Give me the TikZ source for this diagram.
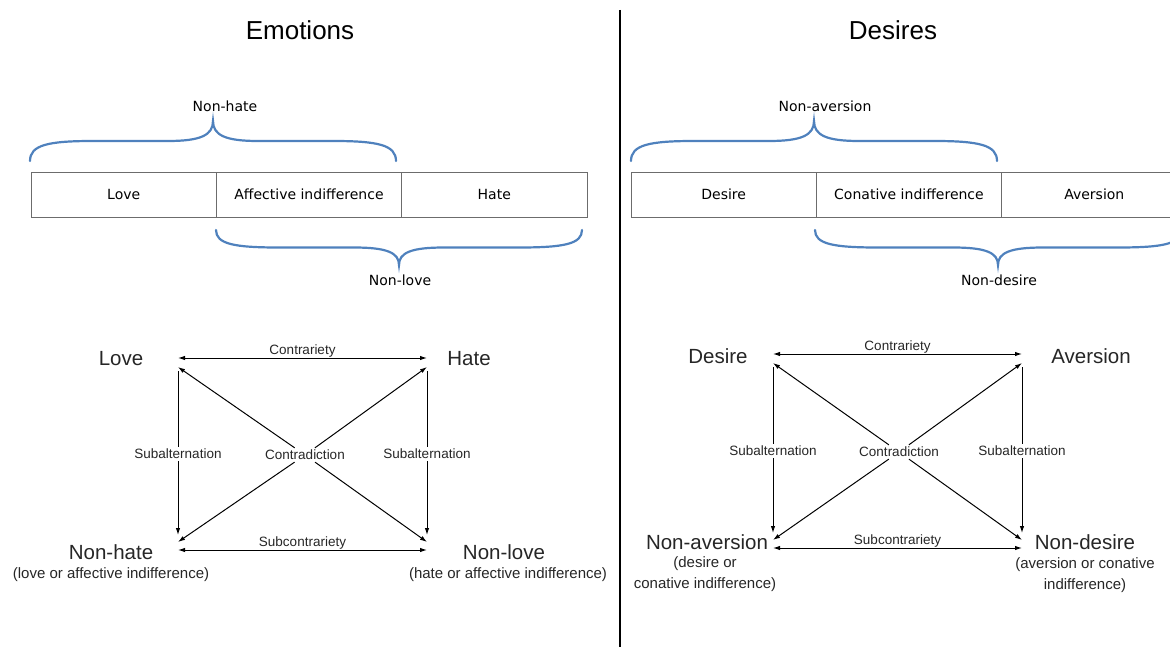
\documentclass[tikz,border=0pt]{standalone}
\usepackage{fontspec}
\setmainfont{Liberation Sans}
\newfontfamily\boxfont{DejaVu Sans}
\usetikzlibrary{positioning,arrows.meta}

\definecolor{bracecol}{RGB}{79,129,189}

\tikzset{
  cell/.style={draw=gray!85!black, line width=0.8pt, outer sep=0pt, inner sep=0pt,
    minimum width=185.3pt, minimum height=45pt, font=\boxfont\fontsize{14}{16}\selectfont},
  bracelabel/.style={font=\boxfont\fontsize{14}{16}\selectfont},
  brace/.style={draw=bracecol, line width=2.2pt, line cap=round},
  curly/.pic={
    \draw[brace] (-183,40) .. controls (-183,24) and (-165,20) .. (-120,20) -- (-45,20)
      .. controls (-12,20) and (0,14) .. (0,0)
      .. controls (0,14) and (12,20) .. (45,20) -- (120,20)
      .. controls (165,20) and (183,24) .. (183,40);
  },
  title/.style={font=\fontsize{26}{30}\selectfont},
  corner/.style={font=\fontsize{20.5}{24}\selectfont, text=black!85},
  sub/.style={font=\fontsize{15}{21}\selectfont, align=center, text=black!85},
  rel/.style={line width=1pt, >={Latex[length=7pt,width=4.5pt]}},
  rellabel/.style={font=\fontsize{13.5}{16}\selectfont, inner sep=2pt, text=black!85},
}

\begin{document}
\begin{tikzpicture}[x=1pt,y=-1pt]
  \useasboundingbox (0,0) rectangle (1170,647);
  \clip (0,0) rectangle (1170,647);

  % divider
  \draw[line width=2.5pt] (620,10) -- (620,647);

  \node[title] (emotions) at (300,30) {Emotions};
  \node[title] (desires) at (893,30) {Desires};

  % emotions table
  \node[cell] (lovecell) at (123.7,194.5) {Love};
  \node[cell, right=0pt of lovecell] (affcell) {Affective indifference};
  \node[cell, right=0pt of affcell] (hatecell) {Hate};

  \pic at (213,121) {curly};
  \node[bracelabel] (nonhatebr) at (225,106) {Non-hate};
  \pic[yscale=-0.875] at (399,265) {curly};
  \node[bracelabel] (nonlovebr) at (400,280) {Non-love};

  % desires table
  \node[cell] (desirecell) at (723.7,194.5) {Desire};
  \node[cell, right=0pt of desirecell] (conacell) {Conative indifference};
  \node[cell, right=0pt of conacell] (aversioncell) {Aversion};

  \pic at (814,121) {curly};
  \node[bracelabel] (nonaversionbr) at (825,106) {Non-aversion};
  \pic[yscale=-0.875] at (998,265) {curly};
  \node[bracelabel] (nondesirebr) at (999,280) {Non-desire};

  % square of emotions
  \node[corner] (love) at (121,359) {Love};
  \node[corner] (hate) at (469,359) {Hate};
  \node[corner] (nonhate) at (111,552) {Non-hate};
  \node[sub] (nonhatesub) at (111,575) {(love or affective indifference)};
  \node[corner] (nonlove) at (504,552) {Non-love};
  \node[sub] (nonlovesub) at (508,575) {(hate or affective indifference)};

  \coordinate (lovept) at (178,358);
  \coordinate (hatept) at (427,358);
  \coordinate (nonhatept) at (178,550);
  \coordinate (nonlovept) at (427,550);

  \draw[rel,<->] (lovept) -- (hatept) node[rellabel, midway, above=-2pt] (contrE) {Contrariety};
  \draw[rel,<->] (nonhatept) -- (nonlovept) node[rellabel, midway, above=-2pt] (subcontrE) {Subcontrariety};
  \draw[rel,->, shorten <=13pt, shorten >=15pt] (lovept) -- (nonhatept)
    node[rellabel, midway, fill=white] (subaltEl) {Subalternation};
  \draw[rel,->, shorten <=13pt, shorten >=15pt] (hatept) -- (nonlovept)
    node[rellabel, midway, fill=white] (subaltEr) {Subalternation};

  \node[rellabel] (contradE) at (305,455) {Contradiction};
  \draw[rel,->] (contradE) -- ([yshift=-9pt]lovept);
  \draw[rel,->] (contradE) -- ([yshift=-9pt]hatept);
  \draw[rel,->] (contradE) -- ([yshift=8pt]nonhatept);
  \draw[rel,->] (contradE) -- ([yshift=8pt]nonlovept);

  % square of desires
  \node[corner] (desire) at (718,356) {Desire};
  \node[corner] (aversion) at (1091,356) {Aversion};
  \node[corner] (nonaversion) at (707,542) {Non-aversion};
  \node[sub] (nonaversionsub) at (705,574) {(desire or\\conative indifference)};
  \node[corner] (nondesire) at (1085,542) {Non-desire};
  \node[sub] (nondesiresub) at (1085,575) {(aversion or conative\\indifference)};

  \coordinate (desirept) at (773,354);
  \coordinate (aversionpt) at (1022,354);
  \coordinate (nonaversionpt) at (773,548);
  \coordinate (nondesirept) at (1022,548);

  \draw[rel,<->] (desirept) -- (aversionpt) node[rellabel, midway, above=-2pt] (contrD) {Contrariety};
  \draw[rel,<->] (nonaversionpt) -- (nondesirept) node[rellabel, midway, above=-2pt] (subcontrD) {Subcontrariety};
  \draw[rel,->, shorten <=13pt, shorten >=15pt] (desirept) -- (nonaversionpt)
    node[rellabel, midway, fill=white] (subaltDl) {Subalternation};
  \draw[rel,->, shorten <=13pt, shorten >=15pt] (aversionpt) -- (nondesirept)
    node[rellabel, midway, fill=white] (subaltDr) {Subalternation};

  \node[rellabel] (contradD) at (899,452) {Contradiction};
  \draw[rel,->] (contradD) -- ([yshift=-9pt]desirept);
  \draw[rel,->] (contradD) -- ([yshift=-9pt]aversionpt);
  \draw[rel,->] (contradD) -- ([yshift=8pt]nonaversionpt);
  \draw[rel,->] (contradD) -- ([yshift=8pt]nondesirept);
\end{tikzpicture}
\end{document}
